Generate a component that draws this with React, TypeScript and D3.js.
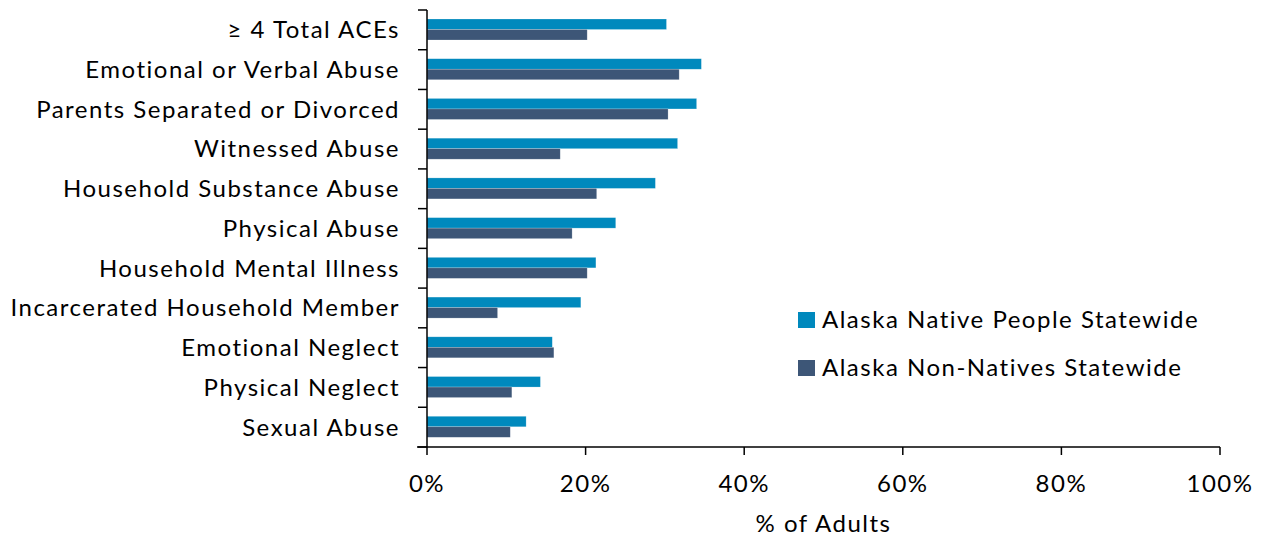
import React, { useEffect, useRef } from "react";
import * as d3 from "d3";

const categories = [
  "≥ 4 Total ACEs",
  "Emotional or Verbal Abuse",
  "Parents Separated or Divorced",
  "Witnessed Abuse",
  "Household Substance Abuse",
  "Physical Abuse",
  "Household Mental Illness",
  "Incarcerated Household Member",
  "Emotional Neglect",
  "Physical Neglect",
  "Sexual Abuse",
];
const nativeValues = [30.2, 34.6, 34.0, 31.6, 28.8, 23.8, 21.3, 19.4, 15.8, 14.3, 12.5];
const nonNativeValues = [20.2, 31.8, 30.4, 16.8, 21.4, 18.3, 20.2, 8.9, 16.0, 10.7, 10.5];
const seriesNames = ["Alaska Native People Statewide", "Alaska Non-Natives Statewide"];
const colors = ["#0089BD", "#3D5677"];
const xTicks = [0, 20, 40, 60, 80, 100];

export default function App() {
  const svgRef = useRef(null);

  useEffect(() => {
    const width = 1266;
    const height = 539;
    const margin = { top: 10, right: 46, bottom: 92, left: 427 };
    const font = "Lato, 'Open Sans', sans-serif";
    const fontSize = 24;
    const spacing = "1.5px";

    const svg = d3.select(svgRef.current).attr("width", width).attr("height", height);
    svg.selectAll("*").remove();

    const x = d3.scaleLinear().domain([0, 100]).range([margin.left, width - margin.right]);
    const y = d3.scaleBand().domain(categories).range([margin.top, height - margin.bottom]);
    const inner = d3.scaleBand().domain(["0", "1"]).range([9, 30]);

    const groups = svg.selectAll("g.row").data(categories).join("g")
      .attr("transform", (d) => `translate(0,${y(d)})`);

    [nativeValues, nonNativeValues].forEach((vals, si) => {
      groups.append("rect")
        .attr("x", x(0))
        .attr("y", inner(String(si)) as number)
        .attr("height", inner.bandwidth())
        .attr("width", (_d, i) => x(vals[i]) - x(0))
        .attr("fill", colors[si])
        .attr("stroke", "#ffffff")
        .attr("stroke-opacity", 0.35)
        .attr("stroke-width", 0.6);
    });

    // y axis
    const yAxis = svg.append("g").attr("transform", `translate(${margin.left},0)`);
    yAxis.append("line")
      .attr("x1", 0).attr("x2", 0)
      .attr("y1", margin.top).attr("y2", height - margin.bottom)
      .attr("stroke", "#000").attr("stroke-width", 1.5);
    const boundaries = categories.map((c) => y(c) as number).concat([height - margin.bottom]);
    yAxis.selectAll("line.tick").data(boundaries).join("line")
      .attr("x1", -9).attr("x2", 0)
      .attr("y1", (d) => d).attr("y2", (d) => d)
      .attr("stroke", "#000").attr("stroke-width", 1.5);
    yAxis.selectAll("text").data(categories).join("text")
      .attr("x", -27)
      .attr("y", (d) => (y(d) as number) + y.bandwidth() / 2)
      .attr("dy", "0.35em")
      .attr("text-anchor", "end")
      .attr("font-family", font)
      .attr("font-size", fontSize)
      .attr("letter-spacing", spacing)
      .attr("fill", "#000")
      .text((d) => d);

    // x axis
    const xAxis = svg.append("g").attr("transform", `translate(0,${height - margin.bottom})`);
    xAxis.append("line")
      .attr("x1", x(0) - 10).attr("x2", x(100))
      .attr("stroke", "#000").attr("stroke-width", 1.5);
    xAxis.selectAll("line.tick").data(xTicks).join("line")
      .attr("x1", (d) => x(d)).attr("x2", (d) => x(d))
      .attr("y1", 0).attr("y2", 8)
      .attr("stroke", "#000").attr("stroke-width", 1.5);
    xAxis.selectAll("text").data(xTicks).join("text")
      .attr("x", (d) => x(d))
      .attr("y", 45)
      .attr("text-anchor", "middle")
      .attr("font-family", font)
      .attr("font-size", fontSize)
      .attr("letter-spacing", spacing)
      .attr("fill", "#000")
      .text((d) => `${d}%`);

    svg.append("text")
      .attr("x", (x(0) + x(100)) / 2)
      .attr("y", 532)
      .attr("text-anchor", "middle")
      .attr("font-family", font)
      .attr("font-size", fontSize)
      .attr("letter-spacing", spacing)
      .attr("fill", "#000")
      .text("% of Adults");

    // legend
    const legend = svg.append("g").attr("transform", "translate(798,312)");
    seriesNames.forEach((name, i) => {
      const g = legend.append("g").attr("transform", `translate(0,${i * 48})`);
      g.append("rect").attr("width", 17).attr("height", 16).attr("fill", colors[i]);
      g.append("text")
        .attr("x", 24).attr("y", 8).attr("dy", "0.35em")
        .attr("font-family", font)
        .attr("font-size", fontSize)
        .attr("letter-spacing", spacing)
        .attr("fill", "#000")
        .text(name);
    });
  }, []);

  return (
    <div style={{ position: "fixed", top: 0, left: 0, background: "#fff" }}>
      <svg ref={svgRef}></svg>
    </div>
  );
}
